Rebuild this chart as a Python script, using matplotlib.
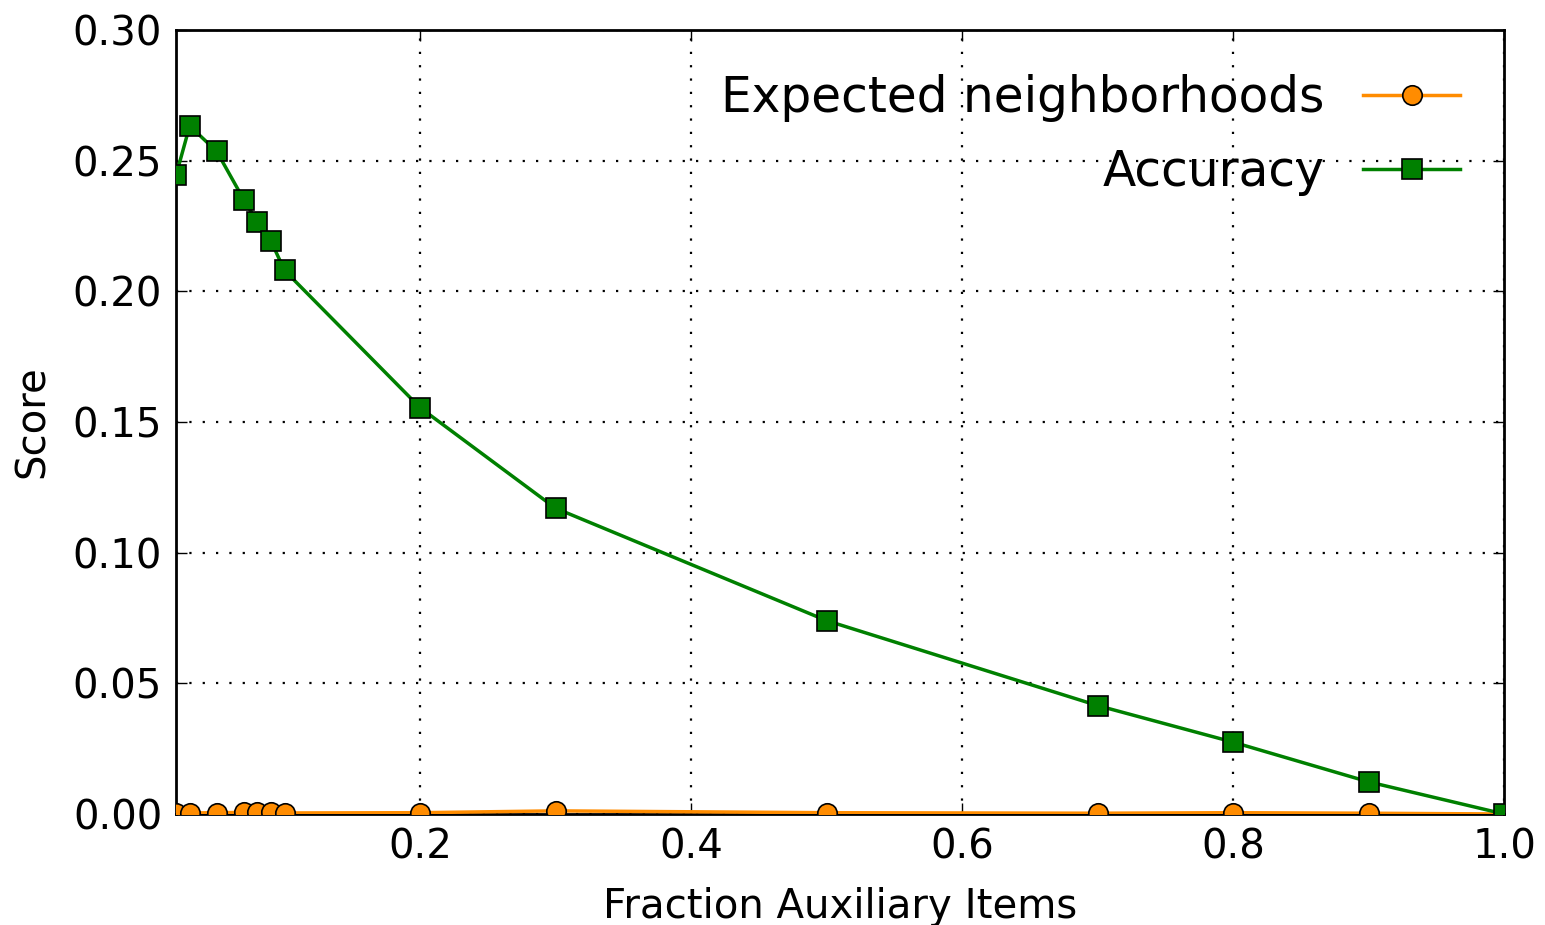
import matplotlib
matplotlib.use('Agg')
import matplotlib.pyplot as plt

# fraction of auxiliary items
frac = [0.02, 0.03, 0.05, 0.07, 0.08, 0.09, 0.1, 0.2, 0.3, 0.5, 0.7, 0.8, 0.9, 1.0]
# scores
expected_nbh = [0.0005, 0.0004, 0.0005, 0.0006, 0.0006, 0.0006, 0.0004, 0.0005,
                0.0012, 0.0005, 0.0003, 0.0005, 0.0003, 0.0]
accuracy = [0.2445, 0.2633, 0.2535, 0.2350, 0.2265, 0.2192, 0.2080, 0.1555,
            0.1170, 0.0740, 0.0415, 0.0275, 0.0123, 0.0]

plt.rcParams['font.family'] = 'DejaVu Sans'

fig = plt.figure(figsize=(15.45, 9.25), dpi=100, facecolor='white')
ax = fig.add_axes([0.114, 0.12, 0.8595, 0.8476])

ax.plot(frac, expected_nbh, color='darkorange', lw=2.5, marker='o', ms=14,
        mec='black', mew=1.2, label='Expected neighborhoods', zorder=3)
ax.plot(frac, accuracy, color='green', lw=2.5, marker='s', ms=14,
        mec='black', mew=1.2, label='Accuracy', zorder=4)

ax.set_xlim(0.02, 1.0)
ax.set_ylim(0.0, 0.30)
ax.set_xticks([0.2, 0.4, 0.6, 0.8, 1.0])
ax.set_yticks([0.0, 0.05, 0.10, 0.15, 0.20, 0.25, 0.30])
ax.set_yticklabels(['0.00', '0.05', '0.10', '0.15', '0.20', '0.25', '0.30'])
ax.tick_params(direction='in', labelsize=29, length=8, width=1, pad=10,
               top=True, right=True)
ax.grid(True, color='black', linestyle=(0, (1, 5)), linewidth=1.6)
for s in ax.spines.values():
    s.set_linewidth(2)

ax.set_xlabel('Fraction Auxiliary Items', fontsize=29, labelpad=14)
ax.set_ylabel('Score', fontsize=29, labelpad=14)

ax.legend(loc='upper right', frameon=False, markerfirst=False, fontsize=35,
          handlelength=2.0, labelspacing=0.55, borderaxespad=0.5)

fig.savefig('out.png', dpi=100, facecolor='white')
